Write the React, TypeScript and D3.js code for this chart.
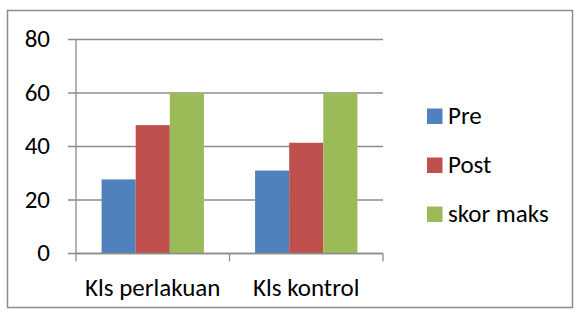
import React, { useEffect, useRef } from 'react';
import * as d3 from 'd3';

const width = 579;
const height = 315;

const categories = ['Kls perlakuan', 'Kls kontrol'];
const seriesNames = ['Pre', 'Post', 'skor maks'];
const preValues = [27.7, 31.0];
const postValues = [48.0, 41.4];
const maxValues = [60, 60];
const yTicks = [0, 20, 40, 60, 80];

const colors = ['#4F81BD', '#C0504D', '#9BBB59'];
const font = 'Carlito, "Open Sans", "Liberation Sans", sans-serif';
const fontSize = 25;

const App = () => {
  const svgRef = useRef<SVGSVGElement | null>(null);

  useEffect(() => {
    const svg = d3.select(svgRef.current);
    svg.selectAll('*').remove();

    const plot = { left: 76, right: 383, top: 39.5, bottom: 253.5 };
    const series = [preValues, postValues, maxValues];

    svg.append('rect')
      .attr('x', 7.5).attr('y', 10.5)
      .attr('width', 565).attr('height', 297)
      .attr('fill', '#fff')
      .attr('stroke', '#8c8c8c')
      .attr('stroke-width', 1.5);

    const x0 = d3.scaleBand()
      .domain(categories)
      .range([plot.left, plot.right])
      .paddingInner(1 / 3)
      .paddingOuter(1 / 6);

    const x1 = d3.scaleBand()
      .domain(seriesNames)
      .range([0, x0.bandwidth()]);

    const y = d3.scaleLinear()
      .domain([0, 80])
      .range([plot.bottom, plot.top]);

    // gridlines
    svg.append('g')
      .selectAll('line')
      .data(yTicks)
      .join('line')
      .attr('x1', plot.left - 8)
      .attr('x2', plot.right)
      .attr('y1', d => y(d))
      .attr('y2', d => y(d))
      .attr('stroke', '#8c8c8c')
      .attr('stroke-width', 1.3);

    svg.append('g')
      .selectAll('text')
      .data(yTicks)
      .join('text')
      .attr('x', 50)
      .attr('y', d => y(d) + 7.5)
      .attr('text-anchor', 'end')
      .attr('font-family', font)
      .attr('font-size', fontSize)
      .attr('fill', '#000')
      .text(d => d);

    // bars
    seriesNames.forEach((name, si) => {
      svg.append('g')
        .selectAll('rect')
        .data(categories)
        .join('rect')
        .attr('x', (c) => (x0(c) as number) + (x1(name) as number))
        .attr('y', (_c, i) => y(series[si][i]))
        .attr('width', x1.bandwidth())
        .attr('height', (_c, i) => plot.bottom - y(series[si][i]))
        .attr('fill', colors[si]);
    });

    // axes lines
    svg.append('line')
      .attr('x1', plot.left).attr('x2', plot.left)
      .attr('y1', plot.top).attr('y2', plot.bottom + 8)
      .attr('stroke', '#8c8c8c').attr('stroke-width', 1.3);

    svg.append('line')
      .attr('x1', plot.left).attr('x2', plot.right)
      .attr('y1', plot.bottom).attr('y2', plot.bottom)
      .attr('stroke', '#8c8c8c').attr('stroke-width', 1.3);

    const step = x0.step();
    const boundaries = [1, 2].map(i => plot.left + i * step);
    svg.append('g')
      .selectAll('line')
      .data(boundaries)
      .join('line')
      .attr('x1', d => d).attr('x2', d => d)
      .attr('y1', plot.bottom).attr('y2', plot.bottom + 8)
      .attr('stroke', '#8c8c8c').attr('stroke-width', 1.3);

    svg.append('g')
      .selectAll('text')
      .data(categories)
      .join('text')
      .attr('x', c => (x0(c) as number) + x0.bandwidth() / 2)
      .attr('y', 296)
      .attr('text-anchor', 'middle')
      .attr('font-family', font)
      .attr('font-size', fontSize)
      .attr('fill', '#000')
      .text(c => c);

    // legend
    const legend = svg.append('g')
      .selectAll('g')
      .data(seriesNames)
      .join('g')
      .attr('transform', (_d, i) => `translate(427,${108.5 + i * 49})`);

    legend.append('rect')
      .attr('width', 15.5).attr('height', 15.5)
      .attr('fill', (_d, i) => colors[i]);

    legend.append('text')
      .attr('x', 21)
      .attr('y', 15.8)
      .attr('font-family', font)
      .attr('font-size', fontSize)
      .attr('fill', '#000')
      .text(d => d);
  }, []);

  return (
    <svg
      ref={svgRef}
      width={width}
      height={height}
      style={{ position: 'absolute', left: 0, top: 0, display: 'block' }}
    ></svg>
  );
};

export default App;
